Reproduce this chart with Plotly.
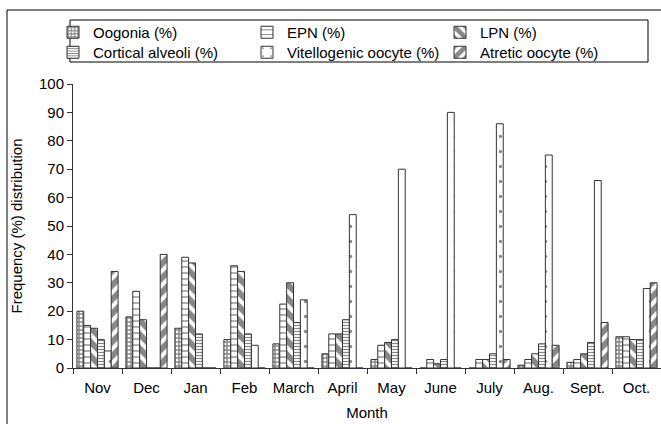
import plotly.graph_objects as go

months = ["Nov", "Dec", "Jan", "Feb", "March", "April", "May", "June", "July", "Aug.", "Sept.", "Oct."]
oogonia = [20, 18, 14, 10, 8.5, 5, 3, 0, 0, 1, 2, 11]
epn = [15, 27, 39, 36, 22.5, 12, 8, 3, 3, 3, 3, 11]
lpn = [14, 17, 37, 34, 30, 12, 9, 1.5, 3, 5, 5, 10]
cortical = [10, 0, 12, 12, 16, 17, 10, 3, 5, 8.5, 9, 10]
vitello = [6, 0, 0, 8, 24, 54, 70, 90, 86, 75, 66, 28]
atretic = [34, 40, 0, 0, 0, 0, 0, 0, 3, 8, 16, 30]
y_ticks = [0, 10, 20, 30, 40, 50, 60, 70, 80, 90, 100]

FONT = "Liberation Sans, Arial, sans-serif"
FS = 15
W, H = 661, 424
ML, MR, MT, MB = 73, 0, 84, 56

pw = W - ML - MR
ph = H - MT - MB
def px(x):
    return (x - ML) / pw
def py(y):
    return (H - MB - y) / ph

# (name, values, pattern, legend id, legend x px, legend top px)
series = [
    ("Oogonia (%)", oogonia, dict(shape="+", size=4, solidity=0.62), "legend", 61, 16),
    ("EPN (%)", epn, dict(shape="-", size=6, solidity=0.22), "legend2", 255, 16),
    ("LPN (%)", lpn, dict(shape="\\", size=10, solidity=0.6), "legend3", 448, 16),
    ("Cortical alveoli (%)", cortical, dict(shape="-", size=3, solidity=0.4), "legend4", 61, 36),
    ("Vitellogenic oocyte (%)", vitello, dict(shape=".", size=15, solidity=0.04), "legend5", 255, 36),
    ("Atretic oocyte (%)", atretic, dict(shape="/", size=10, solidity=0.6), "legend6", 448, 36),
]

fig = go.Figure()
legends = {}
for name, vals, pat, lg, lx, ly in series:
    pat = dict(pat, fgcolor="#111", bgcolor="white")
    fig.add_trace(go.Bar(
        x=months, y=vals, name=name, legend=lg, showlegend=True,
        marker=dict(color="white", pattern=pat, line=dict(color="#333", width=1)),
    ))
    legends[lg] = dict(
        x=px(lx), y=py(ly), xanchor="left", yanchor="top", orientation="v",
        font=dict(family=FONT, size=FS, color="black"),
        bgcolor="rgba(0,0,0,0)", borderwidth=0, itemwidth=30, indentation=-8,
        visible=True,
    )

fig.update_layout(
    width=W, height=H, showlegend=True,
    margin=dict(l=ML, r=MR, t=MT, b=MB),
    paper_bgcolor="white", plot_bgcolor="white",
    barmode="group", bargap=0.16, bargroupgap=0,
    font=dict(family=FONT, size=FS, color="black"),
    xaxis=dict(
        title=dict(text="Month", font=dict(size=FS), standoff=12),
        showline=True, linecolor="#333", linewidth=1, tickangle=0,
        ticks="outside", ticklen=5, tickcolor="#333", tickson="boundaries",
        ticklabelstandoff=6,
        showgrid=False,
    ),
    yaxis=dict(
        title=dict(text="Frequency (%) distribution", font=dict(size=FS), standoff=12),
        range=[0, 100], tickvals=y_ticks,
        showline=True, linecolor="#333", linewidth=1,
        ticks="outside", ticklen=5, tickcolor="#333",
        showgrid=False, zeroline=False,
    ),
    shapes=[
        dict(type="rect", xref="paper", yref="paper",
             x0=px(7), x1=px(700), y0=py(460), y1=py(10),
             line=dict(color="black", width=1), fillcolor="rgba(0,0,0,0)", layer="below"),
        dict(type="rect", xref="paper", yref="paper",
             x0=px(70), x1=px(648), y0=py(62), y1=py(20),
             line=dict(color="black", width=1), fillcolor="rgba(0,0,0,0)", layer="below"),
    ],
    **legends,
)

fig.write_html(
    "out.html",
    config={"displayModeBar": False},
    post_script="document.body.style.margin='0';document.body.style.overflow='hidden';",
)
